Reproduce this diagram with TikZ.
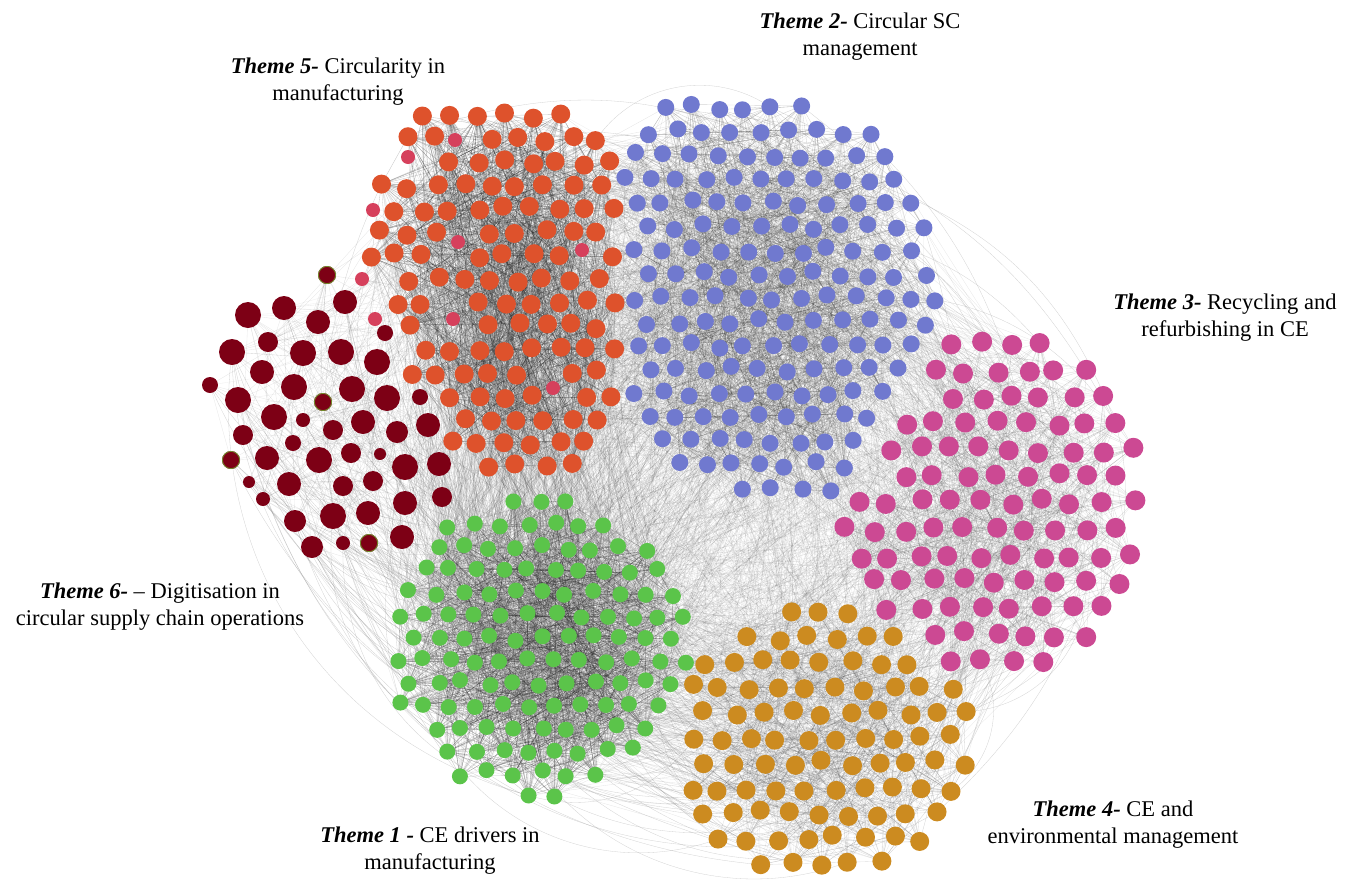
\documentclass[tikz,border=0pt]{standalone}
\usepackage{fontspec}
\setmainfont{Liberation Serif}
\pgfdeclarelayer{links}
\pgfsetlayers{links,main}

\definecolor{tgreen}{HTML}{5BC44A}
\definecolor{tblue}{HTML}{7079CF}
\definecolor{tpink}{HTML}{CC4993}
\definecolor{tgold}{HTML}{CC8B20}
\definecolor{torange}{HTML}{DE522C}
\definecolor{tmaroon}{HTML}{7D0015}
\definecolor{trose}{HTML}{D6405C}
\definecolor{trim}{HTML}{6E8F2A}

\tikzset{
  gnode/.style={circle, inner sep=0pt, outer sep=0pt, draw=none},
  link/.style={line width=0.35pt, draw=black!85},
  farlink/.style={line width=0.3pt, draw=black!45},
  lbl/.style={font=\fontsize{22.5}{27}\selectfont, align=center, inner sep=0pt},
}

\newcount\gkcount
\newif\ifgkkeep

% cluster: id, cx, cy, rx, ry, exponent, spacing, radius, colour; shear set apart
\newcommand\gkdefcluster[9]{%
  \expandafter\def\csname gkcx#1\endcsname{#2}%
  \expandafter\def\csname gkcy#1\endcsname{#3}%
  \expandafter\def\csname gkrx#1\endcsname{#4}%
  \expandafter\def\csname gkry#1\endcsname{#5}%
  \expandafter\def\csname gkex#1\endcsname{#6}%
  \expandafter\def\csname gksp#1\endcsname{#7}%
  \expandafter\def\csname gkrr#1\endcsname{#8}%
  \expandafter\def\csname gkco#1\endcsname{#9}%
  \expandafter\def\csname gksh#1\endcsname{0}%
}
\newcommand\gkshear[2]{\expandafter\def\csname gksh#1\endcsname{#2}}

\gkdefcluster{1}{537}{648}{152}{150}{2}{26}{8}{tgreen}
\gkdefcluster{2}{774}{300}{166}{200}{3}{27.5}{8.5}{tblue}
\gkshear{2}{0.17}
\gkdefcluster{3}{990}{505}{162}{174}{2}{30.5}{10}{tpink}
\gkdefcluster{4}{826}{742}{150}{140}{2}{29}{9.5}{tgold}
\gkdefcluster{5}{499}{291}{130}{182}{4}{27}{9.5}{torange}
\gkdefcluster{6}{328}{412}{118}{138}{2}{30}{10}{tmaroon}

% superellipse distance of (x,y) from the shape of a cluster
\newcommand\gkdist[3]{%
  \edef\gkcx{\csname gkcx#1\endcsname}%
  \edef\gkcy{\csname gkcy#1\endcsname}%
  \edef\gkrx{\csname gkrx#1\endcsname}%
  \edef\gkry{\csname gkry#1\endcsname}%
  \edef\gkex{\csname gkex#1\endcsname}%
  \edef\gksh{\csname gksh#1\endcsname}%
  \pgfmathsetmacro\gktx{min(abs(#2-\gkcx)/\gkrx,3)}%
  \pgfmathsetmacro\gkty{min(abs(#3-\gkcy-\gksh*(#2-\gkcx))/\gkry,3)}%
  \ifcase\gkex\or\or
    \pgfmathsetmacro\gkres{\gktx*\gktx+\gkty*\gkty}%
  \or
    \pgfmathsetmacro\gkres{\gktx*\gktx*\gktx+\gkty*\gkty*\gkty}%
  \or
    \pgfmathsetmacro\gkres{\gktx*\gktx*\gktx*\gktx+\gkty*\gkty*\gkty*\gkty}%
  \fi
}

% hand placed nodes: x/y/radius
\def\gkmaroon{327/275/9, 345/302/12, 248/315/13, 284/308/12, 318/322/12,
  385/333/8, 268/342/10, 232/352/13, 303/353/13, 341/352/13, 377/362/13,
  262/372/12, 210/385/8, 238/400/13, 294/387/13, 352/389/13, 323/402/9,
  387/398/13, 420/397/8, 274/417/13, 303/420/7, 333/430/10, 363/422/12,
  397/432/11, 428/425/12, 243/435/10, 293/443/8, 351/453/10, 380/454/6,
  267/458/12, 231/460/9, 319/460/13, 405/467/13, 439/464/12, 249/482/6,
  289/484/12, 343/486/10, 373/481/10, 263/499/7, 405/503/12, 442/497/10,
  295/521/11, 333/516/13, 368/513/12, 312/547/11, 343/543/7, 369/543/9,
  402/537/12}
\def\gkrose{455/140/7, 408/157/7, 373/210/7, 458/242/7, 582/250/7,
  362/279/7, 375/319/7, 453/319/7, 553/388/7}
\edef\gkfixed{\gkmaroon,\gkrose}

% decides whether a lattice point belongs to cluster #1
\newcommand\gktest[4]{%
  \global\gkkeeptrue
  \gkdist{#1}{#2}{#3}\let\gkown\gkres
  \ifdim\gkown pt>1pt \global\gkkeepfalse\fi
  \ifgkkeep
    \pgfmathsetmacro\gklim{\gkown+0.15}%
    \foreach \gkj in {1,...,6}{%
      \ifnum\gkj=#1\relax\else
        \gkdist{\gkj}{#2}{#3}%
        \ifdim\gkres pt<\gklim pt \global\gkkeepfalse\fi
      \fi}%
  \fi
  \ifgkkeep
    \ifdim#2pt<620pt
      \foreach \gkfx/\gkfy/\gkfr in \gkfixed{%
        \dimen0=\dimexpr#2pt-\gkfx pt\relax
        \ifdim\dimen0<0pt \dimen0=-\dimen0\fi
        \dimen2=\dimexpr#3pt-\gkfy pt\relax
        \ifdim\dimen2<0pt \dimen2=-\dimen2\fi
        \dimen4=\dimexpr\gkfr pt+#4pt+3pt\relax
        \ifdim\dimen0<\dimen4 \ifdim\dimen2<\dimen4
          \pgfmathsetmacro\gkdd{veclen(#2-\gkfx,#3-\gkfy)}%
          \ifdim\gkdd pt<\dimen4 \global\gkkeepfalse\fi
        \fi\fi}%
    \fi
  \fi
}

% fills the shape of a cluster with a jittered hexagonal packing of nodes
\newcommand\gkbuild[1]{%
  \edef\gkbcx{\csname gkcx#1\endcsname}%
  \edef\gkbcy{\csname gkcy#1\endcsname}%
  \edef\gkbrx{\csname gkrx#1\endcsname}%
  \edef\gkbry{\csname gkry#1\endcsname}%
  \edef\gkbsp{\csname gksp#1\endcsname}%
  \edef\gkbrr{\csname gkrr#1\endcsname}%
  \edef\gkbco{\csname gkco#1\endcsname}%
  \pgfmathsetmacro\gkrowh{\gkbsp*0.866}%
  \pgfmathtruncatemacro\gkncol{2*\gkbrx/\gkbsp+1}%
  \pgfmathtruncatemacro\gknrow{2*(\gkbry+40)/\gkrowh+1}%
  \global\gkcount=0
  \foreach \gkri in {0,...,\gknrow}{%
    \foreach \gkci in {0,...,\gkncol}{%
      \pgfmathsetmacro\gkpx{\gkbcx-\gkbrx+\gkci*\gkbsp+mod(\gkri,2)*\gkbsp/2+(rnd-0.5)*\gkbsp*0.24}%
      \pgfmathsetmacro\gkpy{\gkbcy-\gkbry-40+\gkri*\gkrowh+(rnd-0.5)*\gkbsp*0.24}%
      \gktest{#1}{\gkpx}{\gkpy}{\gkbrr}%
      \ifgkkeep
        \global\advance\gkcount by 1
        \node[gnode, fill=\gkbco, minimum size=2*\gkbrr] (c#1-\the\gkcount) at (\gkpx,\gkpy) {};
      \fi}}%
  \expandafter\xdef\csname gknn#1\endcsname{\the\gkcount}%
}

\begin{document}
\begin{tikzpicture}[x=1pt,y=-1pt]
\useasboundingbox (0,0) rectangle (1357,884);
\pgfmathsetseed{11}

% Theme 6 and the rose members of Theme 5
\foreach \x/\y/\r [count=\i] in \gkmaroon
  \node[gnode, fill=tmaroon, minimum size=2*\r] (c6-\i) at (\x,\y) {};
\foreach \n in {1,17,31,47}
  \draw[trim, line width=0.8pt] (c6-\n.center) circle[radius=8.6];
\expandafter\def\csname gknn6\endcsname{48}
\foreach \x/\y/\r [count=\i] in \gkrose
  \node[gnode, fill=trose, minimum size=2*\r] (c7-\i) at (\x,\y) {};
\expandafter\def\csname gknn7\endcsname{9}

% Themes 1 to 5
\gkbuild{1}
\gkbuild{2}
\gkbuild{3}
\gkbuild{4}
\gkbuild{5}

\begin{pgfonlayer}{links}
  % links inside each theme
  \foreach \gkk/\gkm/\gko in {1/1500/0.26, 5/1500/0.26, 2/1200/0.2, 3/550/0.15, 4/550/0.15, 6/160/0.10}{%
    \edef\gkN{\csname gknn\gkk\endcsname}%
    \foreach \gke in {1,...,\gkm}{%
      \pgfmathrandominteger{\gka}{1}{\gkN}%
      \ifodd\gke\relax
        \pgfmathrandominteger{\gkb}{1}{\gkN}%
      \else
        \pgfmathrandominteger{\gkoff}{1}{30}%
        \pgfmathtruncatemacro{\gkb}{mod(\gka+\gkoff-1,\gkN)+1}%
      \fi
      \draw[link, opacity=\gko] (c\gkk-\gka.center) -- (c\gkk-\gkb.center);
    }}
  % links between themes
  \foreach \gkp/\gkq/\gkm/\gko in {5/1/550/0.13, 5/2/420/0.12, 2/1/380/0.11,
      2/3/260/0.10, 1/4/270/0.11, 3/4/260/0.10, 1/3/190/0.09, 2/4/190/0.09,
      6/5/110/0.11, 6/1/110/0.11, 6/2/40/0.08, 7/5/50/0.12, 5/4/90/0.08, 5/3/90/0.08}{%
    \edef\gkNp{\csname gknn\gkp\endcsname}%
    \edef\gkNq{\csname gknn\gkq\endcsname}%
    \foreach \gke in {1,...,\gkm}{%
      \pgfmathrandominteger{\gka}{1}{\gkNp}%
      \pgfmathrandominteger{\gkb}{1}{\gkNq}%
      \draw[link, opacity=\gko] (c\gkp-\gka.center) -- (c\gkq-\gkb.center);
    }}
  % long sweeping links round the outside
  \foreach \gkp/\gkq/\gkm/\gkbend in {5/1/60/right, 6/1/55/right, 6/4/30/right,
      2/3/45/left, 3/4/45/left, 4/1/45/left, 5/2/40/left, 2/4/35/left, 5/3/20/left}{%
    \edef\gkNp{\csname gknn\gkp\endcsname}%
    \edef\gkNq{\csname gknn\gkq\endcsname}%
    \foreach \gke in {1,...,\gkm}{%
      \pgfmathrandominteger{\gka}{1}{\gkNp}%
      \pgfmathrandominteger{\gkb}{1}{\gkNq}%
      \pgfmathrandominteger{\gkang}{20}{45}%
      \draw[farlink, opacity=0.4] (c\gkp-\gka.center) to[bend \gkbend=\gkang] (c\gkq-\gkb.center);
    }}
\end{pgfonlayer}

% theme labels
\node[lbl] (lab5) at (338,82) {\textbf{\textit{Theme 5-}} Circularity in\\manufacturing};
\node[lbl] (lab2) at (860,37) {\textbf{\textit{Theme 2-}} Circular SC\\management};
\node[lbl] (lab3) at (1225,318) {\textbf{\textit{Theme 3-}} Recycling and\\refurbishing in CE};
\node[lbl] (lab6) at (160,607) {\textbf{\textit{Theme 6-}} -- Digitisation in\\circular supply chain operations};
\node[lbl] (lab4) at (1113,825) {\textbf{\textit{Theme 4-}} CE and\\environmental management};
\node[lbl] (lab1) at (430,851) {\textbf{\textit{Theme 1 -}} CE drivers in\\manufacturing};
\end{tikzpicture}
\end{document}
